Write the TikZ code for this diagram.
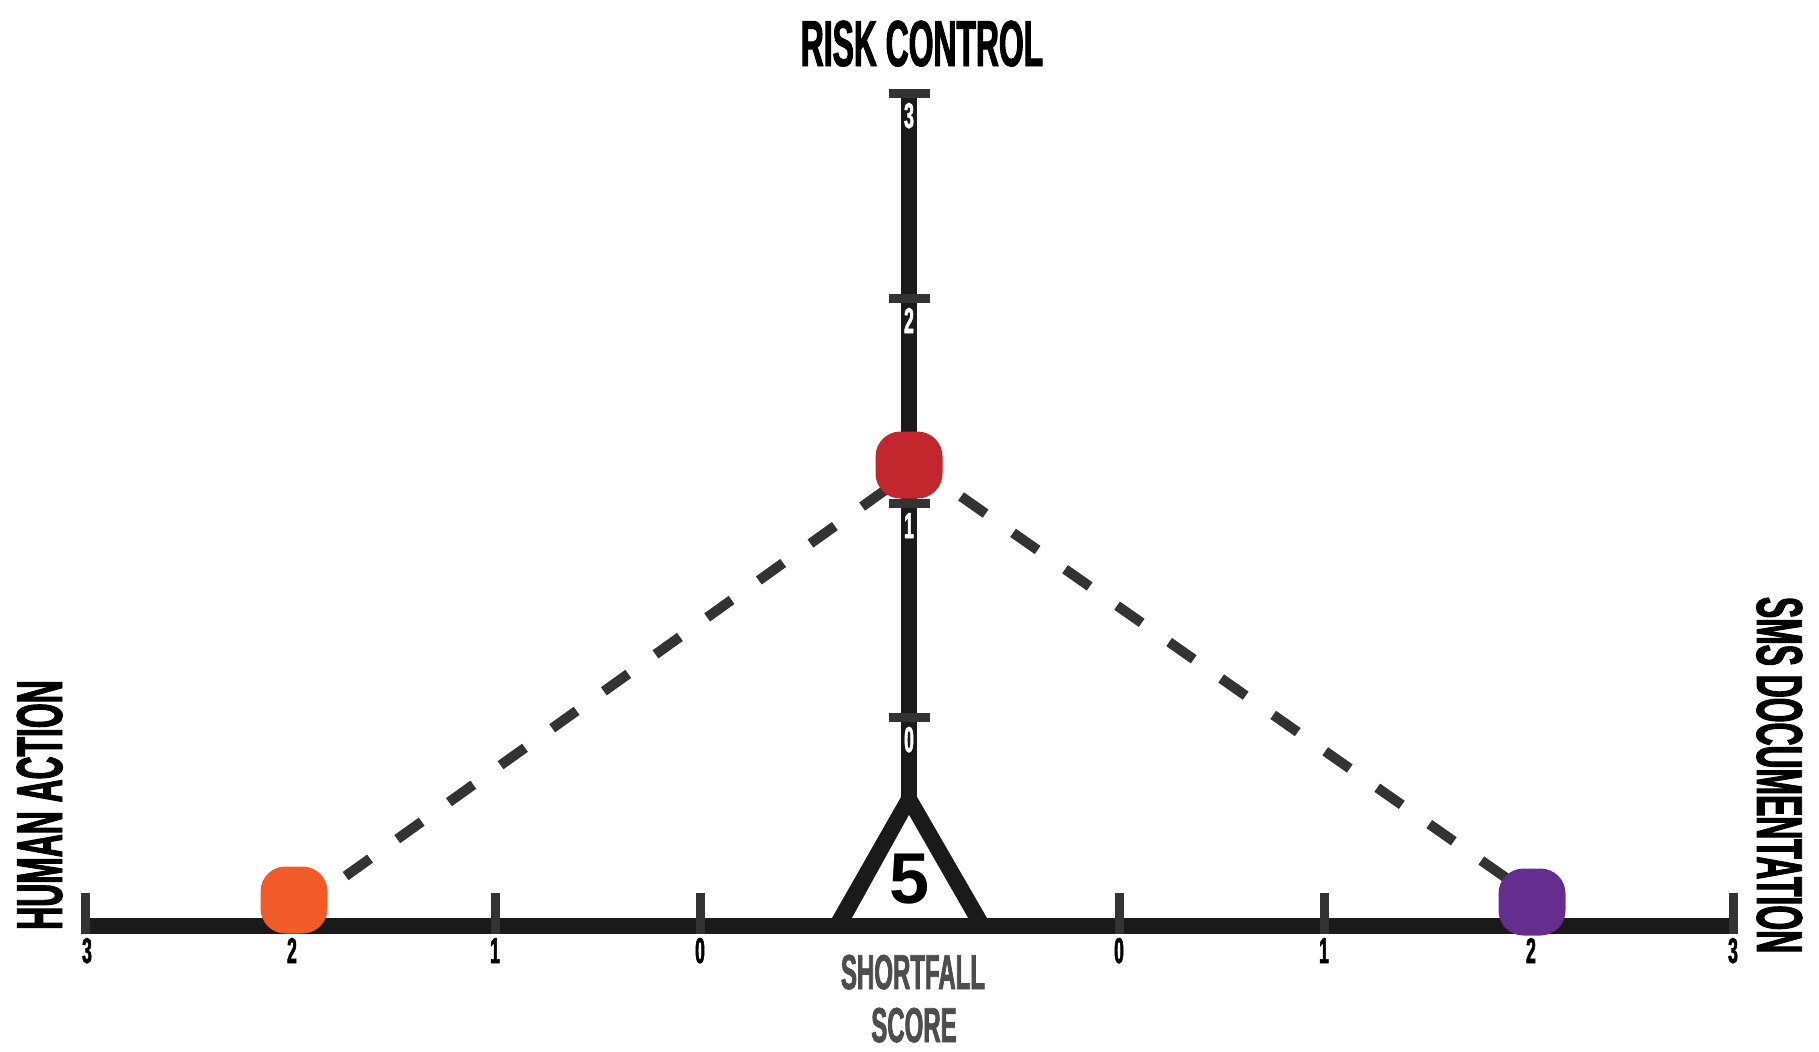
\documentclass[tikz,border=0pt]{standalone}
\usepackage{fontspec}
\usepackage{tikz}
\usetikzlibrary{positioning,backgrounds}
\setmainfont{Liberation Sans}
\newfontfamily\condfont[FakeStretch=0.49,FakeBold=1.5]{Liberation Sans}
\definecolor{ink}{HTML}{1A1A1A}
\definecolor{tickgray}{HTML}{333333}
\definecolor{linkgray}{HTML}{333333}
\definecolor{scoregray}{HTML}{4D4D4D}
\definecolor{humanorange}{HTML}{F15A29}
\definecolor{riskred}{HTML}{C1272D}
\definecolor{smspurple}{HTML}{662D91}

\begin{document}
\begin{tikzpicture}[
  x=0.5pt,y=-0.5pt,
  axisbar/.style={draw=ink,line width=8pt},
  tickmark/.style={draw=tickgray,line width=4.5pt},
  dot/.style={rectangle,rounded corners=12.5pt,minimum size=33.5pt,inner sep=0pt},
  link/.style={draw=linkgray,line width=5pt,dash pattern=on 15pt off 16.75pt},
  axisname/.style={font=\condfont\bfseries\fontsize{32.5}{32.5}\selectfont,inner sep=0pt,anchor=base},
  num/.style={font=\condfont\bfseries\fontsize{18}{18}\selectfont,inner sep=0pt,anchor=base},
  caption/.style={font=\condfont\bfseries\fontsize{24.5}{24.5}\selectfont,text=scoregray,inner sep=0pt,anchor=base}
]
\useasboundingbox (0,0) rectangle (1819,1051);

% axes and the score triangle
\begin{scope}[on background layer]
\draw[axisbar] (909,89) -- (909,806);
\fill[ink] (909,783) -- (832,918) -- (987,918) -- cycle;
\fill[white] (909,815) -- (852,918) -- (968,918) -- cycle;
\draw[axisbar] (81,926) -- (1737,926);
\foreach \x in {85.5,292,495,700,1119,1324,1531,1733}
  \draw[tickmark] (\x,893) -- (\x,934);
\foreach \y in {93,298,503,717}
  \draw[tickmark] (889,\y) -- (930,\y);
\end{scope}

% axis names
\node[axisname] (riskname) at (922,66) {RISK CONTROL};
\node[axisname,rotate=90] (humanname) at (62,805) {HUMAN ACTION};
\node[axisname,rotate=-90] (smsname) at (1757,775) {SMS DOCUMENTATION};

% scale numbers
\foreach \x/\n in {87/3,292/2,495/1,700/0}
  \node[num] (hl\n) at (\x,963) {\n};
\foreach \x/\n in {1119/0,1324/1,1531/2,1733/3}
  \node[num] (hr\n) at (\x,963) {\n};
\foreach \y/\n in {93/3,298/2,503/1,717/0}
  \node[num,text=white] (v\n) at (909,\y+35) {\n};

% score
\node[font=\bfseries\fontsize{36}{36}\selectfont,inner sep=0pt,anchor=base] (score) at (910,903) {5};
\node[caption] (shortfall) at (913,989) {SHORTFALL};
\node[caption] (scorelbl) at (914,1042) {SCORE};

% ratings
\node[dot,fill=humanorange] (human) at (294,900) {};
\node[dot,fill=riskred] (risk) at (909,465) {};
\node[dot,fill=smspurple] (sms) at (1532,902) {};

\begin{scope}[on background layer]
\draw[link] ([yshift=-6.5pt]human.center) -- ([yshift=-4pt]risk.center);
\draw[link] ([yshift=2.5pt]risk.center) -- ([yshift=3pt]sms.center);
\end{scope}
\end{tikzpicture}
\end{document}
